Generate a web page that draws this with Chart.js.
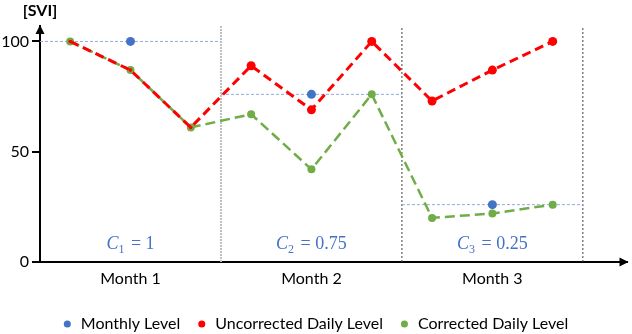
<!DOCTYPE html>
<html lang="en">
<head>
<meta charset="UTF-8">
<title>SVI correction by month</title>
<script src="https://cdn.jsdelivr.net/npm/chart.js"></script>
<style>
    html, body { margin: 0; padding: 0; background: #fff; }
    canvas { display: block; }
</style>
</head>
<body>
<canvas id="chart" width="632" height="334"></canvas>
<script>
// data
const months = ["Month 1", "Month 2", "Month 3"];
const monthlyLevel = [100, 76, 26];
const uncorrected = [100, 87, 61, 89, 69, 100, 73, 87, 100];
const corrected = [100, 87, 61, 67, 42, 76, 20, 22, 26];
const coefficients = ["1", "0.75", "0.25"];
const yTicks = [0, 50, 100];
const yTop = 107;
const xEnd = 9.74;
const daysPerMonth = 3;

const BLUE = "#4472C4", RED = "#FF0000", GREEN = "#70AD47";

const dayPoints = vals => vals.map((v, i) => ({ x: i + 0.5, y: v }));
const monthMid = m => m * daysPerMonth + daysPerMonth / 2;

const datasets = [
    {
        label: "Monthly Level",
        data: monthlyLevel.map((v, m) => ({ x: monthMid(m), y: v })),
        showLine: false,
        pointRadius: 4.5, pointBorderWidth: 0,
        pointBackgroundColor: BLUE, borderColor: BLUE, backgroundColor: BLUE
    },
    {
        label: "Uncorrected Daily Level",
        data: dayPoints(uncorrected),
        borderColor: RED, backgroundColor: RED,
        borderWidth: 3, borderDash: [9, 5],
        pointRadius: uncorrected.map((v, i) => i < daysPerMonth ? 1.8 : 4.5),
        pointBorderWidth: 0, pointBackgroundColor: RED
    },
    {
        label: "Corrected Daily Level",
        data: dayPoints(corrected),
        borderColor: GREEN, backgroundColor: GREEN,
        borderWidth: 2.5, borderDash: [10, 5],
        pointRadius: 4, pointBorderWidth: 0, pointBackgroundColor: GREEN
    }
];

// monthly level guide lines
monthlyLevel.forEach((v, m) => {
    datasets.push({
        data: [{ x: m * daysPerMonth, y: v }, { x: (m + 1) * daysPerMonth, y: v }],
        borderColor: "#8FAADC", borderWidth: 1, borderDash: [3, 2],
        pointRadius: 0
    });
});

// month dividers
months.forEach((name, m) => {
    const first = m === 0;
    datasets.push({
        data: [{ x: (m + 1) * daysPerMonth, y: 0 }, { x: (m + 1) * daysPerMonth, y: yTop }],
        borderColor: first ? "#BFBFBF" : "#404040",
        borderWidth: first ? 2 : 1,
        borderDash: first ? [2, 1] : [2, 2],
        pointRadius: 0
    });
});

const decor = {
    id: "decor",
    afterDraw(chart) {
        const { ctx, chartArea: a, scales: { x } } = chart;
        ctx.save();
        ctx.fillStyle = "#000";
        // arrow heads
        ctx.beginPath();
        ctx.moveTo(a.left, a.top - 1);
        ctx.lineTo(a.left - 4.5, a.top + 8);
        ctx.lineTo(a.left + 4.5, a.top + 8);
        ctx.closePath();
        ctx.fill();
        ctx.beginPath();
        ctx.moveTo(a.right + 1, a.bottom);
        ctx.lineTo(a.right - 8, a.bottom - 4.5);
        ctx.lineTo(a.right - 8, a.bottom + 4.5);
        ctx.closePath();
        ctx.fill();

        // axis unit
        ctx.font = "bold 16px Lato";
        ctx.textAlign = "center";
        ctx.textBaseline = "alphabetic";
        ctx.fillText("[SVI]", a.left, 16);

        // coefficient labels
        ctx.fillStyle = BLUE;
        ctx.textAlign = "left";
        const big = "18px 'Liberation Serif'";
        const bigIt = "italic 18px 'Liberation Serif'";
        const small = "12px 'Liberation Serif'";
        coefficients.forEach((c, m) => {
            const rest = " = " + c;
            ctx.font = bigIt; const wC = ctx.measureText("C").width;
            ctx.font = small; const wS = ctx.measureText(String(m + 1)).width;
            ctx.font = big; const wR = ctx.measureText(rest).width;
            let px = x.getPixelForValue(monthMid(m)) - (wC + wS + 2 + wR) / 2;
            const base = a.bottom - 13;
            ctx.font = bigIt; ctx.fillText("C", px, base); px += wC;
            ctx.font = small; ctx.fillText(String(m + 1), px, base + 4); px += wS + 2;
            ctx.font = big; ctx.fillText(rest, px, base);
        });
        ctx.restore();
    }
};

new Chart(document.getElementById("chart"), {
    type: "line",
    data: { datasets },
    options: {
        responsive: false,
        animation: false,
        layout: { padding: { top: 26, right: 2, left: 0, bottom: 0 } },
        plugins: {
            tooltip: { enabled: false },
            legend: {
                position: "bottom",
                maxHeight: 34,
                labels: {
                    usePointStyle: true,
                    pointStyle: "circle",
                    boxWidth: 11,
                    boxHeight: 5,
                    padding: 16,
                    color: "#000",
                    font: { family: "Lato", size: 16 },
                    filter: item => item.datasetIndex < 3,
                    generateLabels: chart => Chart.defaults.plugins.legend.labels.generateLabels(chart)
                        .map(item => Object.assign(item, { lineWidth: 0, lineDash: [] }))
                }
            }
        },
        scales: {
            x: {
                type: "linear",
                min: 0,
                max: xEnd,
                afterBuildTicks: s => { s.ticks = months.map((n, m) => ({ value: monthMid(m) })); },
                afterFit: s => { s.height = 38; },
                grid: { display: false, drawTicks: false },
                border: { color: "#000", width: 2 },
                ticks: {
                    callback: (v, i) => months[i],
                    color: "#000",
                    font: { family: "Lato", size: 16 },
                    padding: 7,
                    maxRotation: 0,
                    autoSkip: false
                }
            },
            y: {
                min: 0,
                max: yTop,
                afterBuildTicks: s => { s.ticks = yTicks.map(v => ({ value: v })); },
                afterFit: s => { s.width = 40; },
                grid: { drawOnChartArea: false, drawTicks: true, tickLength: 8, color: "#000", lineWidth: 2 },
                border: { color: "#000", width: 2 },
                ticks: { color: "#000", font: { family: "Lato", size: 16 }, padding: 3 }
            }
        }
    },
    plugins: [decor]
});
</script>
</body>
</html>
